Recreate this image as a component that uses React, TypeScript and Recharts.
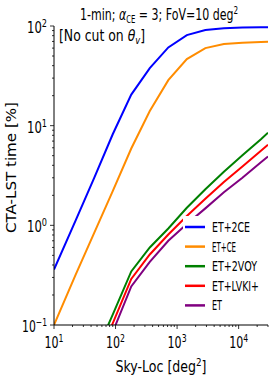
import { LineChart, Line, XAxis, YAxis, Legend } from 'recharts'

const skyLoc = [10, 22.5, 45, 90, 180, 360, 720, 1440, 2880, 5760, 11520, 23040, 30000]
const et2ce = [0.36, 1.12, 3.0, 8.2, 20.5, 37.8, 61, 81, 91, 95, 96.5, 97, 97]
const etce = [0.1, 0.32, 0.84, 2.2, 5.9, 14, 28.6, 46.6, 60, 66, 68, 69, 69.5]
const et2voy = [0.006, 0.018, 0.048, 0.127, 0.345, 0.6, 0.93, 1.5, 2.3, 3.45, 5.05, 7.3, 8.5]
const etlvki = [0.0046, 0.014, 0.038, 0.104, 0.29, 0.51, 0.81, 1.24, 1.85, 2.72, 3.9, 5.6, 6.45]
const et = [0.0035, 0.011, 0.03, 0.085, 0.244, 0.43, 0.7, 1.03, 1.48, 2.15, 3.0, 4.3, 4.9]

const seriesNames = ['ET+2CE', 'ET+CE', 'ET+2VOY', 'ET+LVKI+', 'ET']
const seriesColors = ['#0000ff', '#ff8c00', '#008000', '#ff0000', '#800080']
const legendWidths = [38, 24, 45, 47, 10]

const xTicks = [10, 20, 30, 40, 50, 60, 70, 80, 90, 100, 200, 300, 400, 500, 600, 700, 800, 900,
  1000, 2000, 3000, 4000, 5000, 6000, 7000, 8000, 9000, 10000, 20000, 30000]
const yTicks = [0.1, 0.2, 0.3, 0.4, 0.5, 0.6, 0.7, 0.8, 0.9, 1, 2, 3, 4, 5, 6, 7, 8, 9,
  10, 20, 30, 40, 50, 60, 70, 80, 90, 100]

const rows = skyLoc.map((x, i) => ({
  x,
  s0: et2ce[i],
  s1: etce[i],
  s2: et2voy[i],
  s3: etlvki[i],
  s4: et[i],
}))

const FONT = 'DejaVu Sans'

function exponentOf(v: number) {
  const e = Math.log10(v)
  return Math.abs(e - Math.round(e)) < 1e-6 ? Math.round(e) : null
}

function XTick({ x, y, payload }: any) {
  const e = exponentOf(payload.value)
  return (
    <g>
      <line x1={x} x2={x} y1={y} y2={y + (e !== null ? 4 : 2)} stroke="#000" strokeWidth={0.8} />
      {e !== null && (
        <text x={x} y={y + 23} textAnchor="middle" fontFamily={FONT} fontSize={15} fill="#000"
          textLength={19} lengthAdjust="spacingAndGlyphs">
          10<tspan dy={-6} fontSize={10.5}>{e < 0 ? '\u2212' + -e : e}</tspan>
        </text>
      )}
    </g>
  )
}

function YTick({ x, y, payload }: any) {
  const e = exponentOf(payload.value)
  return (
    <g>
      <line x1={x} x2={x - (e !== null ? 4 : 2)} y1={y} y2={y} stroke="#000" strokeWidth={0.8} />
      {e !== null && (
        <text x={x - 7} y={y + 7} textAnchor="end" fontFamily={FONT} fontSize={15} fill="#000"
          textLength={e < 0 ? 25 : 20} lengthAdjust="spacingAndGlyphs">
          10<tspan dy={-6} fontSize={10.5}>{e < 0 ? '\u2212' + -e : e}</tspan>
        </text>
      )}
    </g>
  )
}

// legend keeps the plotting order (recharts sorts its payload by name)
function LegendBox() {
  return (
    <svg width={84} height={100} style={{ display: 'block', background: '#fff' }}>
      {seriesNames.map((name, i) => {
        const cy = 11 + i * 19.6
        return (
          <g key={name}>
            <line x1={2} x2={22} y1={cy} y2={cy} stroke={seriesColors[i]} strokeWidth={2.5} />
            <text x={29} y={cy + 5} fontFamily={FONT} fontSize={14} fill="#000"
              textLength={legendWidths[i]} lengthAdjust="spacingAndGlyphs">
              {name}
            </text>
          </g>
        )
      })}
    </svg>
  )
}

export default function App() {
  return (
    <div style={{ position: 'absolute', left: 0, top: 0, width: 274, height: 382, background: '#fff' }}>
      <LineChart width={274} height={382} data={rows} margin={{ top: 26, right: 6, bottom: 0, left: 0 }}>
        <XAxis dataKey="x" type="number" scale="log" domain={[10, 30000]} ticks={xTicks} interval={0}
          allowDataOverflow tickLine={false} tickSize={0} tickMargin={0} height={57}
          axisLine={{ stroke: '#000', strokeWidth: 1 }} tick={<XTick />} />
        <XAxis xAxisId="top" orientation="top" dataKey="x" type="number" scale="log" domain={[10, 30000]}
          allowDataOverflow height={0} tick={false} tickLine={false} axisLine={{ stroke: '#000', strokeWidth: 1 }} />
        <YAxis type="number" scale="log" domain={[0.1, 100]} ticks={yTicks} interval={0}
          allowDataOverflow tickLine={false} tickSize={0} tickMargin={0} width={54}
          axisLine={{ stroke: '#000', strokeWidth: 1 }} tick={<YTick />} />
        <YAxis yAxisId="right" orientation="right" type="number" scale="log" domain={[0.1, 100]}
          allowDataOverflow width={0} tick={false} tickLine={false} axisLine={{ stroke: '#000', strokeWidth: 1 }} />
        {seriesNames.map((name, i) => (
          <Line key={name} dataKey={'s' + i} name={name} type="linear" stroke={seriesColors[i]}
            strokeWidth={2} dot={false} activeDot={false} isAnimationActive={false} />
        ))}
        <Legend layout="horizontal" verticalAlign="middle" align="center" width={84} height={100}
          wrapperStyle={{ left: 183, top: 216, width: 84, height: 100, background: '#fff' }}
          content={<LegendBox />} />
      </LineChart>
      <svg width={274} height={382} style={{ position: 'absolute', left: 0, top: 0, pointerEvents: 'none' }}>
        <text x={159} y={20} textAnchor="middle" fontFamily={FONT} fontSize={16} fill="#000"
          textLength={158} lengthAdjust="spacingAndGlyphs">
          1-min; <tspan fontStyle="italic">α</tspan><tspan dy={3} fontSize={10}>CE</tspan>
          <tspan dy={-3}> = 3; FoV=10 deg</tspan><tspan dy={-6} fontSize={10.5}>2</tspan>
        </text>
        <text x={59} y={41} fontFamily={FONT} fontSize={15} fill="#000" textLength={86} lengthAdjust="spacingAndGlyphs">
          [No cut on <tspan fontStyle="italic">θ</tspan><tspan dy={3} fontSize={10} fontStyle="italic">v</tspan>
          <tspan dy={-3}>]</tspan>
        </text>
        <text x={161} y={372} textAnchor="middle" fontFamily={FONT} fontSize={15} fill="#000"
          textLength={91} lengthAdjust="spacingAndGlyphs">
          Sky-Loc [deg<tspan dy={-6} fontSize={10.5}>2</tspan><tspan dy={6}>]</tspan>
        </text>
        <text x={16} y={167.5} transform="rotate(-90 16 167.5)" textAnchor="middle" fontFamily={FONT}
          fontSize={14.5} fill="#000" textLength={131} lengthAdjust="spacingAndGlyphs">
          CTA-LST time [%]
        </text>
      </svg>
    </div>
  )
}
